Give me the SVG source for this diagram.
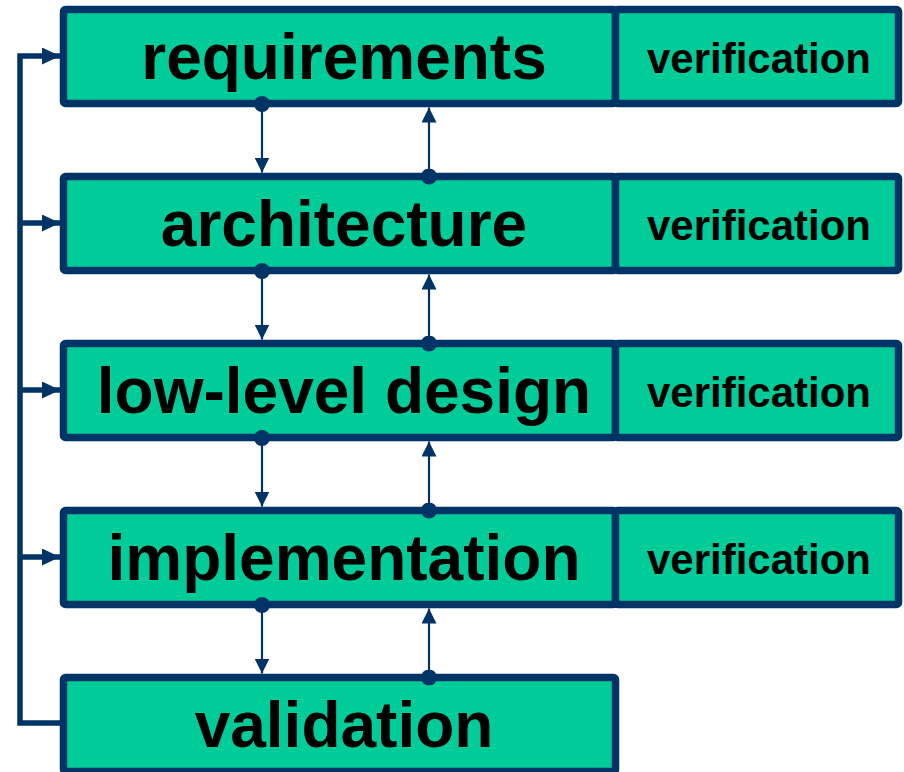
<svg xmlns="http://www.w3.org/2000/svg" width="904" height="772" viewBox="0 0 904 772">
  <defs>
    <style>
      .box { fill: #00CC99; stroke: #003366; stroke-width: 7.5; stroke-linejoin: round; }
      .main { font-family: "Liberation Sans", Arial, sans-serif; font-weight: bold; font-size: 64px; fill: #000; text-anchor: middle; }
      .ver { font-family: "Liberation Sans", Arial, sans-serif; font-weight: bold; font-size: 42px; fill: #000; text-anchor: middle; }
      .bus { fill: none; stroke: #003366; stroke-width: 5.5; }
      .link { fill: none; stroke: #003366; stroke-width: 2.2; }
      .head { fill: #003366; }
    </style>
    <marker id="bigArrow" viewBox="0 0 18 17" refX="18" refY="8.5" markerWidth="18" markerHeight="17" markerUnits="userSpaceOnUse" orient="auto">
      <path d="M0,0 L18,8.5 L0,17 Z" class="head"/>
    </marker>
    <marker id="smallArrow" viewBox="0 0 15 15" refX="15" refY="7.5" markerWidth="15" markerHeight="15" markerUnits="userSpaceOnUse" orient="auto">
      <path d="M0,0 L15,7.5 L0,15 Z" class="head"/>
    </marker>
    <marker id="dot" viewBox="0 0 16 16" refX="8" refY="8" markerWidth="16" markerHeight="16" markerUnits="userSpaceOnUse">
      <circle cx="8" cy="8" r="8" class="head"/>
    </marker>
  </defs>

  <g id="requirements">
    <rect class="box" x="63.5" y="9.5" width="552" height="94" rx="2"/>
    <text class="main" x="344" y="79">requirements</text>
  </g>
  <g id="requirements-verification">
    <rect class="box" x="615.5" y="9.5" width="283" height="94" rx="2"/>
    <text class="ver" x="759" y="73">verification</text>
  </g>

  <g id="architecture">
    <rect class="box" x="63.5" y="176.5" width="552" height="94" rx="2"/>
    <text class="main" x="344" y="246">architecture</text>
  </g>
  <g id="architecture-verification">
    <rect class="box" x="615.5" y="176.5" width="283" height="94" rx="2"/>
    <text class="ver" x="759" y="240">verification</text>
  </g>

  <g id="low-level-design">
    <rect class="box" x="63.5" y="343.5" width="552" height="94" rx="2"/>
    <text class="main" x="344" y="413">low-level design</text>
  </g>
  <g id="low-level-design-verification">
    <rect class="box" x="615.5" y="343.5" width="283" height="94" rx="2"/>
    <text class="ver" x="759" y="407">verification</text>
  </g>

  <g id="implementation">
    <rect class="box" x="63.5" y="510.5" width="552" height="94" rx="2"/>
    <text class="main" x="344" y="580">implementation</text>
  </g>
  <g id="implementation-verification">
    <rect class="box" x="615.5" y="510.5" width="283" height="94" rx="2"/>
    <text class="ver" x="759" y="574">verification</text>
  </g>

  <g id="validation">
    <rect class="box" x="63.5" y="677.5" width="552" height="94" rx="2"/>
    <text class="main" x="344" y="747">validation</text>
  </g>

  <g id="connectors">
    <!-- feedback bus from validation back to every phase -->
    <path class="bus" d="M63.5,723 H20 V56 H60" marker-end="url(#bigArrow)"/>
    <path class="bus" d="M20,223 H60" marker-end="url(#bigArrow)"/>
    <path class="bus" d="M20,390 H60" marker-end="url(#bigArrow)"/>
    <path class="bus" d="M20,557 H60" marker-end="url(#bigArrow)"/>

    <!-- downward hand-offs -->
    <path class="link" d="M262,104 V172.5" marker-start="url(#dot)" marker-end="url(#smallArrow)"/>
    <path class="link" d="M262,271 V339.5" marker-start="url(#dot)" marker-end="url(#smallArrow)"/>
    <path class="link" d="M262,438 V506.5" marker-start="url(#dot)" marker-end="url(#smallArrow)"/>
    <path class="link" d="M262,605 V673.5" marker-start="url(#dot)" marker-end="url(#smallArrow)"/>

    <!-- upward feedback -->
    <path class="link" d="M429,176.5 V107.5" marker-start="url(#dot)" marker-end="url(#smallArrow)"/>
    <path class="link" d="M429,343.5 V274.5" marker-start="url(#dot)" marker-end="url(#smallArrow)"/>
    <path class="link" d="M429,510.5 V441.5" marker-start="url(#dot)" marker-end="url(#smallArrow)"/>
    <path class="link" d="M429,677.5 V608.5" marker-start="url(#dot)" marker-end="url(#smallArrow)"/>
  </g>
</svg>
